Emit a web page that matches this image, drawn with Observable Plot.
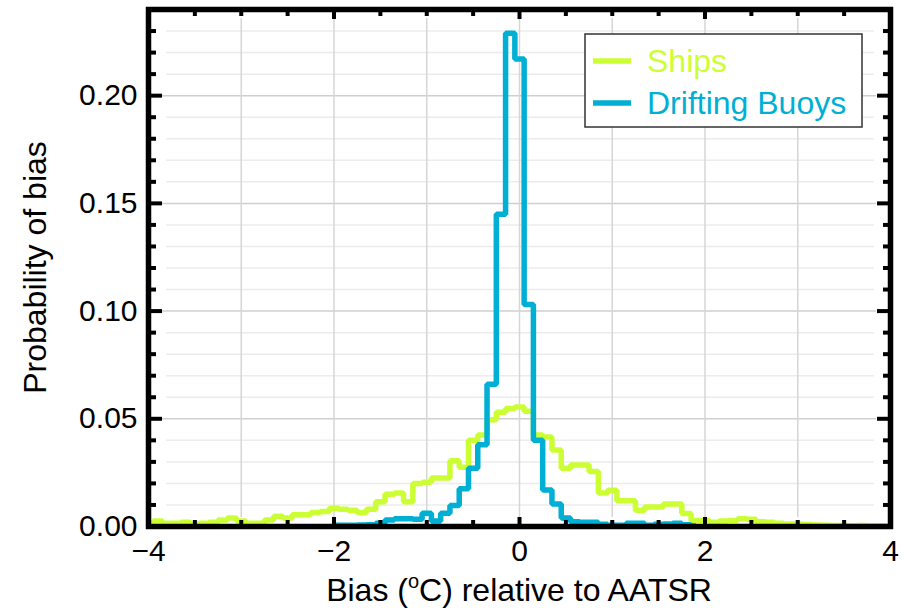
<!DOCTYPE html>
<html>
<head>
<meta charset="utf-8">
<script src="https://cdn.jsdelivr.net/npm/d3@7"></script>
<script src="https://cdn.jsdelivr.net/npm/@observablehq/plot@0.6"></script>
<style>
  html, body { margin: 0; padding: 0; background: #fff; }
  #chart { width: 904px; height: 613px; }
  svg { display: block; }
</style>
</head>
<body>
<div id="chart"></div>
<script>
// Histogram bins are 0.1 °C wide, centred on multiples of 0.1
const binWidth = 0.1;

// Ships: bins centred from -4.0 to 4.0
const shipsFirstBin = -4.0;
const shipsProb = [
  0.0012, 0.0025, 0.0015, 0.0015, 0.0020, 0.0013, 0.0015, 0.0020, 0.0030, 0.0040,
  0.0025, 0.0015, 0.0015, 0.0030, 0.0048, 0.0040, 0.0055, 0.0055, 0.0065, 0.0070,
  0.0085, 0.0080, 0.0075, 0.0065, 0.0080, 0.0115, 0.0150, 0.0155, 0.0115, 0.0200,
  0.0205, 0.0225, 0.0225, 0.0305, 0.0275, 0.0400, 0.0425, 0.0495, 0.0530, 0.0548,
  0.0555, 0.0535, 0.0425, 0.0415, 0.0355, 0.0270, 0.0285, 0.0285, 0.0255, 0.0155,
  0.0168, 0.0120, 0.0120, 0.0075, 0.0090, 0.0090, 0.0105, 0.0105, 0.0060, 0.0028,
  0.0028, 0.0020, 0.0025, 0.0028, 0.0036, 0.0034, 0.0022, 0.0020, 0.0015, 0.0012,
  0.0012, 0.0009, 0.0007, 0.0006, 0.0005, 0.0005, 0.0004, 0.0005, 0.0004, 0.0003,
  0.0003
];

// Drifting buoys: bins centred from -2.0 to 1.9
const buoysFirstBin = -2.0;
const buoysProb = [
  0.0006, 0.0006, 0.0006, 0.0007, 0.0008, 0.0015, 0.0030, 0.0036, 0.0036, 0.0034,
  0.0062, 0.0025, 0.0062, 0.0098, 0.0175, 0.0270, 0.0380, 0.0660, 0.1450, 0.2290,
  0.2170, 0.1030, 0.0400, 0.0170, 0.0105, 0.0040, 0.0022, 0.0020, 0.0020, 0.0010,
  0.0006, 0.0006, 0.0015, 0.0015, 0.0006, 0.0010, 0.0012, 0.0015, 0.0008, 0.0004
];

const seriesNames = ["Ships", "Drifting Buoys"];
const seriesColors = ["#ccff33", "#00afd4"];

// Axis ticks
const xLabelTicks = [-4, -2, 0, 2, 4];
const xMinorTicks = [-3.5, -3, -2.5, -1.5, -1, -0.5, 0.5, 1, 1.5, 2.5, 3, 3.5];
const xGridLines = [-3, -2, -1, 0, 1, 2, 3];
const yLabelTicks = [0, 0.05, 0.10, 0.15, 0.20];
const yMinorTicks = [0.01, 0.02, 0.03, 0.04, 0.06, 0.07, 0.08, 0.09, 0.11, 0.12, 0.13, 0.14,
                     0.16, 0.17, 0.18, 0.19, 0.21, 0.22, 0.23];
const yMajorTicks = [0.05, 0.10, 0.15, 0.20];

const toBins = (first, probs) =>
  probs.map((p, i) => ({bias: +(first + i * binWidth).toFixed(1), prob: p}));

const ships = toBins(shipsFirstBin, shipsProb);
const buoys = toBins(buoysFirstBin, buoysProb);

const tickStroke = {stroke: "black", strokeWidth: 4, fill: "none"};
const stepStyle = {curve: "step", strokeWidth: 5.5, strokeLinejoin: "miter", strokeLinecap: "butt"};

const chart = Plot.plot({
  width: 904,
  height: 613,
  marginLeft: 148,
  marginRight: 14,
  marginTop: 9,
  marginBottom: 87,
  x: {domain: [-4, 4]},
  y: {domain: [0, 0.24]},
  style: {fontFamily: "'Liberation Sans', Arial, Helvetica, sans-serif", background: "white"},
  marks: [
    // background grid
    Plot.gridY(yMinorTicks, {stroke: "#ececec", strokeOpacity: 1, strokeWidth: 1.5, insetLeft: 18, insetRight: 16}),
    Plot.gridY(yMajorTicks, {stroke: "#cfcfcf", strokeOpacity: 1, strokeWidth: 1.5, insetLeft: 14, insetRight: 14}),
    Plot.gridX(xGridLines, {stroke: "#d6d6d6", strokeOpacity: 1, strokeWidth: 1.5, insetTop: 9, insetBottom: 9}),

    // histogram outlines
    Plot.line(ships, {x: "bias", y: "prob", stroke: seriesColors[0], ...stepStyle}),
    Plot.line(buoys, {x: "bias", y: "prob", stroke: seriesColors[1], ...stepStyle}),

    // inward ticks on all four sides
    Plot.axisX(xLabelTicks, {anchor: "bottom", tickSize: -9, ...tickStroke}),
    Plot.axisX(xMinorTicks, {anchor: "bottom", tickSize: -6, ...tickStroke}),
    Plot.axisX(xLabelTicks, {anchor: "top", tickSize: -9, ...tickStroke}),
    Plot.axisX(xMinorTicks, {anchor: "top", tickSize: -6, ...tickStroke}),
    Plot.axisY(yLabelTicks, {anchor: "left", tickSize: -14, ...tickStroke}),
    Plot.axisY(yMinorTicks, {anchor: "left", tickSize: -8, ...tickStroke}),
    Plot.axisY(yLabelTicks, {anchor: "right", tickSize: -14, ...tickStroke}),
    Plot.axisY(yMinorTicks, {anchor: "right", tickSize: -8, ...tickStroke}),

    // tick labels
    Plot.axisX(xLabelTicks, {anchor: "bottom", tickSize: 0, tickPadding: 13, fontSize: 30,
      tickFormat: d3.format("d"), label: null}),
    Plot.axisY(yLabelTicks, {anchor: "left", tickSize: 0, tickPadding: 11, fontSize: 30,
      tickFormat: d3.format(".2f"), label: null}),

    Plot.frame({stroke: "black", strokeWidth: 5.5})
  ]
});

document.getElementById("chart").appendChild(chart);

// axis titles and legend
const svg = d3.select(chart);
const font = "'Liberation Sans', Arial, Helvetica, sans-serif";
const xs = chart.scale("x");
const ys = chart.scale("y");

const xTitle = svg.append("text")
  .attr("x", xs.apply(0))
  .attr("y", 601)
  .attr("text-anchor", "middle")
  .attr("font-family", font)
  .attr("font-size", 32)
  .attr("fill", "black");
xTitle.append("tspan").text("Bias (");
xTitle.append("tspan").attr("font-size", 20).attr("dy", -13).text("o");
xTitle.append("tspan").attr("dy", 13).text("C) relative to AATSR");

svg.append("text")
  .attr("transform", `translate(46,${(ys.apply(0) + ys.apply(0.24)) / 2}) rotate(-90)`)
  .attr("text-anchor", "middle")
  .attr("font-family", font)
  .attr("font-size", 32)
  .attr("fill", "black")
  .text("Probability of bias");

const legend = svg.append("g");
legend.append("rect")
  .attr("x", 585).attr("y", 34).attr("width", 277).attr("height", 93)
  .attr("fill", "white").attr("stroke", "#333").attr("stroke-width", 1.5);
seriesNames.forEach((name, i) => {
  const cy = 61 + i * 42;
  legend.append("line")
    .attr("x1", 593).attr("x2", 631).attr("y1", cy).attr("y2", cy)
    .attr("stroke", seriesColors[i]).attr("stroke-width", 5.5);
  legend.append("text")
    .attr("x", 647).attr("y", cy + 11)
    .attr("text-anchor", "start")
    .attr("font-family", font).attr("font-size", 32)
    .attr("fill", seriesColors[i])
    .text(name);
});
</script>
</body>
</html>
